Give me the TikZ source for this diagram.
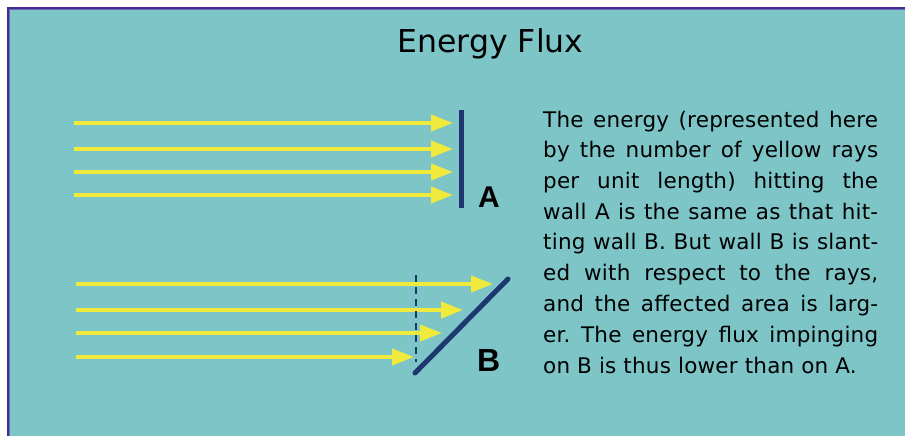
\documentclass[tikz,border=0pt]{standalone}
\usepackage{fontspec}
\setmainfont{DejaVu Sans}[LetterSpace=1]
\newfontfamily\titlefont{DejaVu Sans}
\newfontfamily\labelfont{Liberation Sans}
\usetikzlibrary{arrows.meta}
\definecolor{bgteal}{RGB}{126,197,200}
\definecolor{raycol}{RGB}{240,234,60}
\definecolor{wallcol}{RGB}{30,55,110}
\definecolor{framecol}{RGB}{75,40,140}
\definecolor{framein}{RGB}{95,110,190}
\newcommand{\jline}[1]{\makebox[335pt][s]{#1}\\}
\begin{document}
\begin{tikzpicture}[x=1pt,y=-1pt,
  rayarrow/.style={draw=raycol, line width=4pt, -{Triangle[length=22pt,width=16pt]}},
  wallline/.style={draw=wallcol, line width=5pt},
  guide/.style={draw=wallcol, line width=1.5pt, dash pattern=on 7pt off 5pt},
  lbl/.style={inner sep=0pt, anchor=base west, font=\labelfont\bfseries\fontsize{30}{30}\selectfont}]
\useasboundingbox (0,0) rectangle (905,436);
\fill[white] (0,0) rectangle (905,436);
\fill[framecol] (7,7) rectangle (905,436);
\fill[framein] (9,9) rectangle (905,436);
\fill[bgteal] (10,10) rectangle (905,436);
% title
\node[inner sep=0pt, anchor=base] (title) at (490.5,53) {\titlefont\fontsize{31.5}{32}\selectfont Energy Flux};
% wall A
\coordinate (wAt) at (461,110);
\coordinate (wAb) at (461,208);
\draw[wallline] (wAt) -- (wAb);
% rays A
\foreach \i/\y in {1/123,2/149,3/172,4/195}{
  \coordinate (as\i) at (74,\y);
  \coordinate (ae\i) at (453,\y);
  \draw[rayarrow] (as\i) -- (ae\i);
}
\node[lbl] (labA) at (478,207) {A};
% rays B
\foreach \i/\y/\x in {1/284/493,2/310/463,3/333/442,4/357/414}{
  \coordinate (bs\i) at (76,\y);
  \coordinate (be\i) at (\x,\y);
  \draw[rayarrow] (bs\i) -- (be\i);
}
% guide and wall B
\coordinate (gt) at (416,275);
\coordinate (gb) at (416,362);
\draw[guide] (gt) -- (gb);
\coordinate (wBb) at (415,373);
\coordinate (wBt) at (508,279);
\draw[wallline, line cap=round] (wBb) -- (wBt);
\node[lbl, font=\labelfont\bfseries\fontsize{32}{32}\selectfont] (labB) at (477,371) {B};
% explanation
\node[inner sep=0pt, anchor=base west] (expl) at (543,127) {\parbox[t]{335pt}{\fontsize{21.5}{30.75}\selectfont\frenchspacing\setlength{\parindent}{0pt}%
\jline{The energy (represented here}
\jline{by the number of yellow rays}
\jline{per unit length) hitting the}
\jline{wall A is the same as that hit-}
\jline{ting wall B. But wall B is slant-}
\jline{ed with respect to the rays,}
\jline{and the affected area is larg-}
\jline{er. The energy flux impinging}
on B is thus lower than on A.}};
\end{tikzpicture}
\end{document}
